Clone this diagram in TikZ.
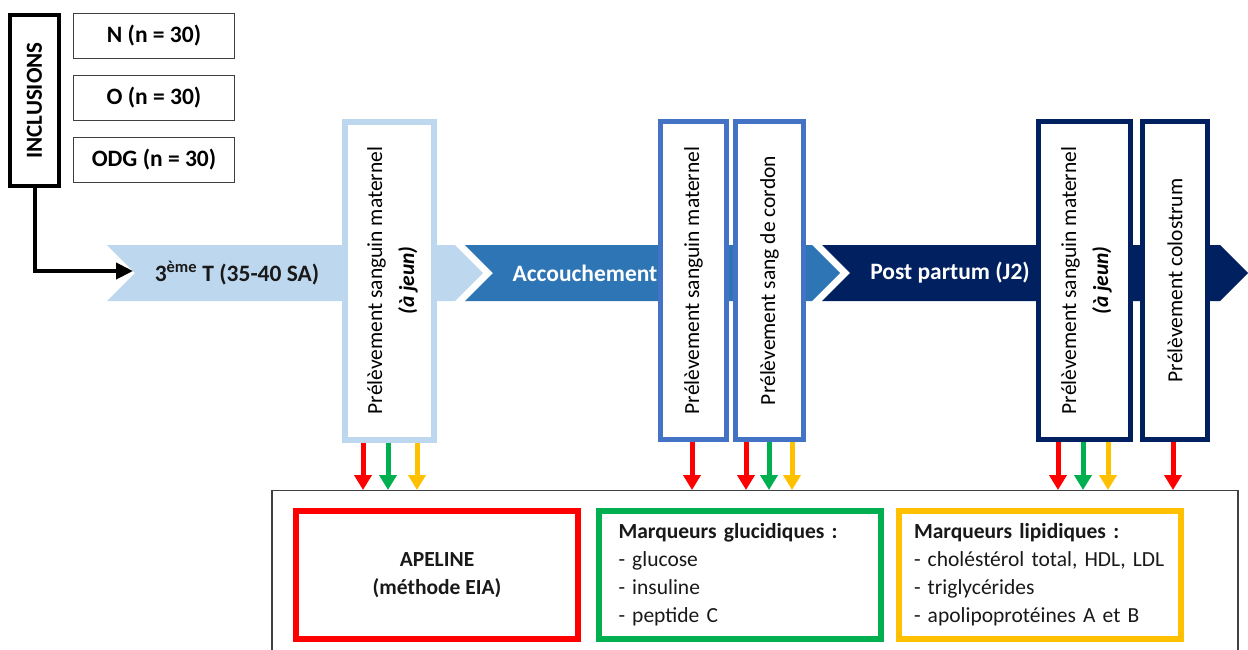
\documentclass[tikz,border=0pt]{standalone}
\usepackage{fontspec}
\setmainfont{Carlito}
\usetikzlibrary{arrows.meta,positioning}
\definecolor{paleblue}{HTML}{BDD7EE}
\definecolor{midblue}{HTML}{2E75B6}
\definecolor{boxblue}{HTML}{4472C4}
\definecolor{navy}{HTML}{002060}
\definecolor{mred}{HTML}{FF0000}
\definecolor{mgreen}{HTML}{00B050}
\definecolor{myellow}{HTML}{FFC000}

\begin{document}
\begin{tikzpicture}[x=1pt,y=-1pt,font=\fontsize{21.5}{28}\selectfont,
    >={Triangle[width=17pt,length=15pt]}]
  \useasboundingbox (0,0) rectangle (1248,649);
  \tikzset{group/.style={draw=black!75,line width=1.2,minimum width=161,minimum height=45,inner sep=0,font=\fontsize{23.5}{28}\selectfont\bfseries}}
  \tikzset{sample/.style={draw=#1,line width=5,fill=white,inner sep=0,minimum height=318}}
  \tikzset{vtext/.style={rotate=90,align=center,inner sep=0,font=\fontsize{21.5}{32}\selectfont}}
  \tikzset{phase/.style={inner sep=0,font=\fontsize{23.5}{28}\selectfont\bfseries}}
  \tikzset{mbox/.style={draw=#1,line width=6,fill=white,minimum width=282,minimum height=128,inner sep=0,text=black!90}}
  \tikzset{marker/.style={draw=#1,line width=5,->}}
  % inclusions
  \node[draw,line width=4,minimum width=49,minimum height=171,inner sep=0,font=\fontsize{23}{28}\selectfont\bfseries] (incl) at (34.5,100.5) {\rotatebox{90}{INCLUSIONS}};
  \node[group] (N)   at (154,36)  {N (n = 30)};
  \node[group] (O)   at (154,98)  {O (n = 30)};
  \node[group] (ODG) at (154,160) {ODG (n = 30)};
  % time line
  \fill[paleblue] (107,245) -- (455,245) -- (483,273) -- (455,301) -- (107,301) -- (135,273) -- cycle;
  \fill[midblue]  (465,245) -- (812,245) -- (840,273) -- (812,301) -- (465,301) -- (493,273) -- cycle;
  \fill[navy]     (822,245) -- (1220,245) -- (1248,273) -- (1220,301) -- (822,301) -- (850,273) -- cycle;
  \node[phase,text=black!90] (T3)   at (237,273) {3\textsuperscript{ème} T (35-40 SA)};
  \node[phase,text=white]    (acc)  at (585,273) {Accouchement};
  \node[phase,text=white]    (post) at (950,273) {Post partum (J2)};
  \coordinate (entry) at (133,271);
  \draw[line width=4,-{Triangle[width=16pt,length=17pt]}] (incl.south) |- (entry);
  % samples
  \node[sample=paleblue,line width=6,minimum width=89] (b1) at (389.5,280.5) {};
  \node[sample=boxblue,minimum width=66] (b2) at (693.5,280.5) {};
  \node[sample=boxblue,minimum width=68] (b3) at (769.5,280.5) {};
  \node[sample=navy,minimum width=92] (b4) at (1084.5,280.5) {};
  \node[sample=navy,minimum width=65] (b5) at (1175,280.5) {};
  \node[vtext] (b1t) at ([xshift=3]b1.center) {Prélèvement sanguin maternel\\\textbf{\textit{(à jeun)}}};
  \node[vtext] (b2t) at (b2) {Prélèvement sanguin maternel};
  \node[vtext] (b3t) at (b3) {Prélèvement sang de cordon};
  \node[vtext] (b4t) at ([xshift=2]b4.center) {Prélèvement sanguin maternel\\\textbf{\textit{(à jeun)}}};
  \node[vtext] (b5t) at (b5) {Prélèvement colostrum};
  % results
  \node[draw=black!75,line width=1.2,minimum width=966,minimum height=220,anchor=north] (res) at (755,490) {};
  \node[mbox=mred,align=center,font=\fontsize{21.5}{28}\selectfont\bfseries] (apel) at (437,575) {APELINE\\(méthode EIA)};
  \node[mbox=mgreen,align=left,text width=242,inner xsep=20] (gluc) at (739.5,575)
    {\textbf{Marqueurs glucidiques :}\\- glucose\\- insuline\\- peptide C};
  \node[mbox=myellow,align=left,text width=252,inner xsep=15] (lip) at (1040,575)
    {\textbf{Marqueurs lipidiques :}\\- choléstérol total, HDL, LDL\\- triglycérides\\- apolipoprotéines A et B};
  \foreach \x/\c/\s in {363/mred/b1, 388/mgreen/b1, 417/myellow/b1, 692/mred/b2,
      746/mred/b3, 769/mgreen/b3, 792/myellow/b3,
      1058/mred/b4, 1083/mgreen/b4, 1108/myellow/b4, 1173/mred/b5}
    \draw[marker=\c] (\x,0 |- \s.south) -- (\x,0 |- res.north);
\end{tikzpicture}
\end{document}
